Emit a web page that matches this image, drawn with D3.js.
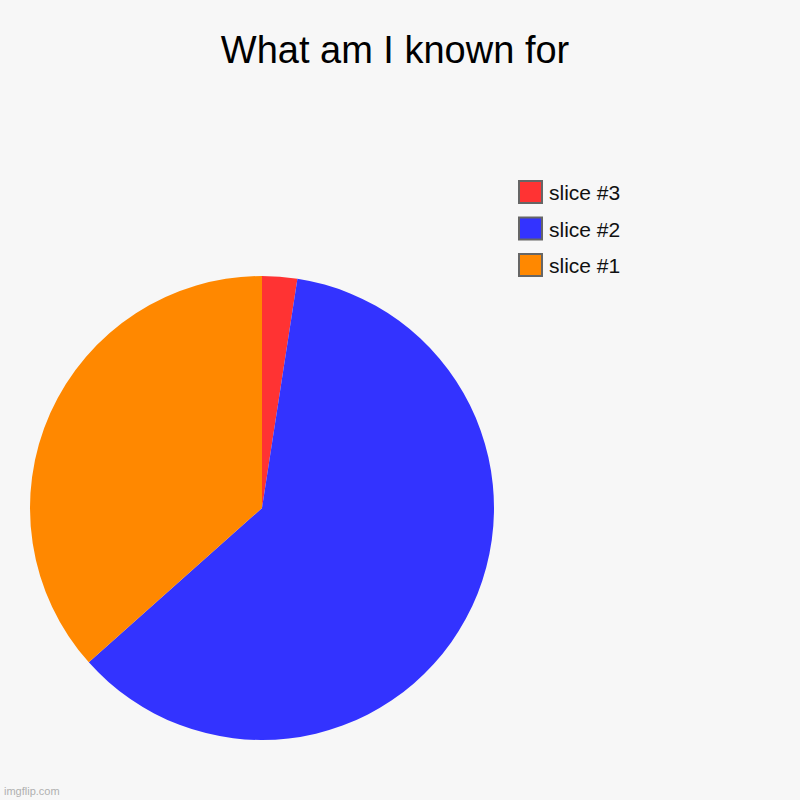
<!DOCTYPE html>
<html>
<head>
<meta charset="utf-8">
<script src="https://cdn.jsdelivr.net/npm/d3@7"></script>
<style>
  html, body { margin: 0; padding: 0; background: #f7f7f7; }
  svg { display: block; font-family: "Liberation Sans", Arial, sans-serif; }
</style>
</head>
<body>
<script>
// data, in drawing order (clockwise from 12 o'clock)
const labels = ["slice #3", "slice #2", "slice #1"];
const values = [1, 25, 15];
const colors = ["#ff3333", "#3333ff", "#ff8800"];
const title = "What am I known for";

const width = 800, height = 800;
const cx = 262, cy = 508, radius = 232;

const svg = d3.select("body").append("svg")
    .attr("width", width)
    .attr("height", height);

svg.append("rect")
    .attr("width", width)
    .attr("height", height)
    .attr("fill", "#f7f7f7");

svg.append("text")
    .attr("x", 395)
    .attr("y", 63)
    .attr("text-anchor", "middle")
    .attr("font-size", 38)
    .attr("fill", "#000")
    .text(title);

const pie = d3.pie().sort(null).value(d => d);
const arc = d3.arc().innerRadius(0).outerRadius(radius);

svg.append("g")
    .attr("transform", `translate(${cx},${cy})`)
  .selectAll("path")
  .data(pie(values))
  .join("path")
    .attr("d", arc)
    .attr("fill", (d, i) => colors[i]);

// legend
const legend = svg.append("g")
    .attr("transform", "translate(519,181)");

const item = legend.selectAll("g")
  .data(labels)
  .join("g")
    .attr("transform", (d, i) => `translate(0,${i * 36.5})`);

item.append("rect")
    .attr("width", 23)
    .attr("height", 22)
    .attr("fill", (d, i) => colors[i])
    .attr("stroke", "#666")
    .attr("stroke-width", 2);

item.append("text")
    .attr("x", 30)
    .attr("y", 19)
    .attr("font-size", 21)
    .attr("fill", "#111")
    .text(d => d);

svg.append("text")
    .attr("x", 4)
    .attr("y", 795)
    .attr("font-size", 11)
    .attr("fill", "#b0b0b0")
    .text("imgflip.com");
</script>
</body>
</html>
